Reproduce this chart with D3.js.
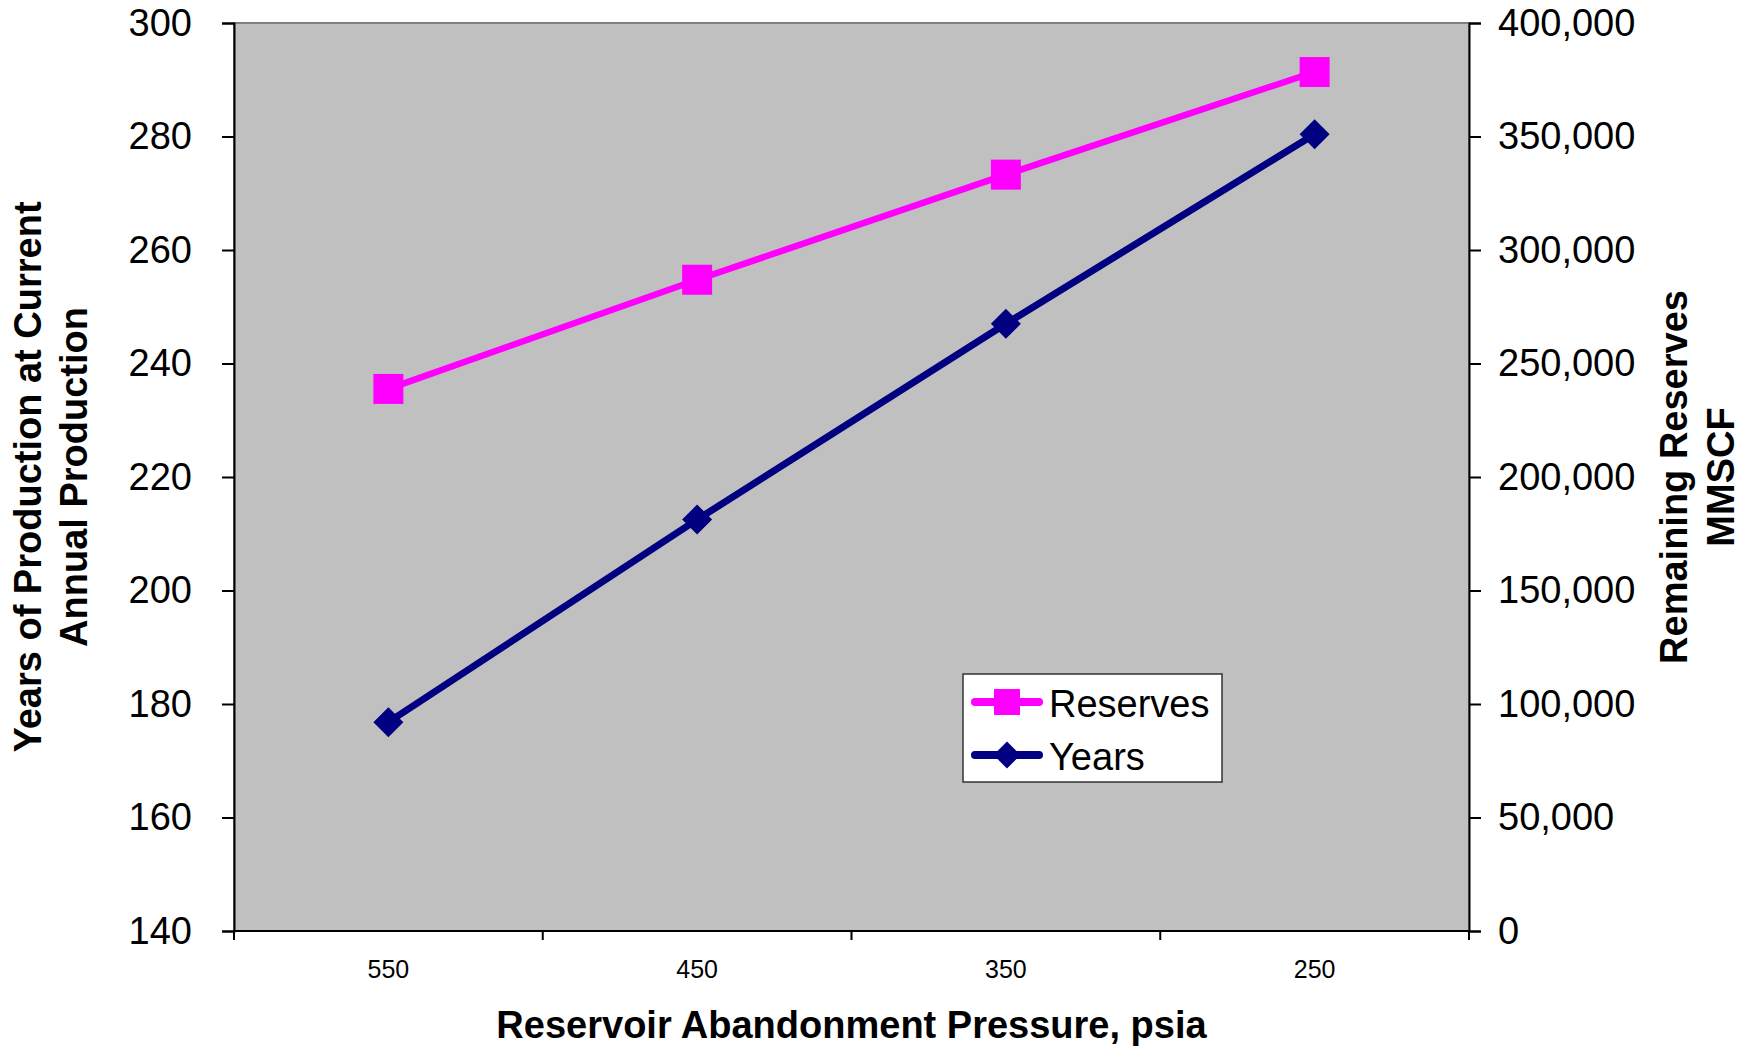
<!DOCTYPE html>
<html>
<head>
<meta charset="utf-8">
<script src="https://cdn.jsdelivr.net/npm/d3@7"></script>
<style>
  body { margin: 0; background: #fff; }
  svg { display: block; font-family: "Liberation Sans", Arial, sans-serif; }
</style>
</head>
<body>
<div id="chart"></div>
<script>
const pressures = ["550", "450", "350", "250"];
const years = [176.8, 212.5, 247.0, 280.4];
const reserves = [238800, 286900, 333200, 378400];
const yearTicks = [140, 160, 180, 200, 220, 240, 260, 280, 300];
const reserveTicks = [0, 50000, 100000, 150000, 200000, 250000, 300000, 350000, 400000];

const width = 1755;
const height = 1050;
const plot = { left: 234, right: 1469, top: 23, bottom: 931 };

const svg = d3.select("#chart").append("svg")
  .attr("width", width)
  .attr("height", height);

const x = d3.scaleBand()
  .domain(pressures)
  .range([plot.left, plot.right])
  .padding(0);

const yLeft = d3.scaleLinear().domain([140, 300]).range([plot.bottom, plot.top]);
const yRight = d3.scaleLinear().domain([0, 400000]).range([plot.bottom, plot.top]);

const cx = (d) => x(d) + x.bandwidth() / 2;

// plot area
svg.append("rect")
  .attr("x", plot.left)
  .attr("y", plot.top)
  .attr("width", plot.right - plot.left)
  .attr("height", plot.bottom - plot.top)
  .attr("fill", "#c0c0c0")
  .attr("stroke", "#808080")
  .attr("stroke-width", 2);

// left axis
const left = svg.append("g").attr("transform", `translate(${plot.left},0)`)
  .call(d3.axisLeft(yLeft).tickValues(yearTicks).tickSize(12).tickPadding(30));

// right axis
const right = svg.append("g").attr("transform", `translate(${plot.right},0)`)
  .call(d3.axisRight(yRight).tickValues(reserveTicks).tickSize(12).tickPadding(17)
    .tickFormat(d3.format(",")));

// bottom axis: ticks at category boundaries, labels at centres
const bottom = svg.append("g").attr("transform", `translate(0,${plot.bottom})`);
bottom.append("line")
  .attr("x1", plot.left).attr("x2", plot.right)
  .attr("stroke", "#000").attr("stroke-width", 2);
const bounds = pressures.map((d) => x(d)).concat([plot.right]);
bottom.selectAll(".btick").data(bounds).join("line")
  .attr("class", "btick")
  .attr("x1", (d) => d).attr("x2", (d) => d)
  .attr("y1", 0).attr("y2", 9)
  .attr("stroke", "#000").attr("stroke-width", 2);
bottom.selectAll(".blabel").data(pressures).join("text")
  .attr("class", "blabel")
  .attr("x", cx)
  .attr("y", 47)
  .attr("text-anchor", "middle")
  .attr("font-size", 25)
  .attr("fill", "#000")
  .text((d) => d);

[left, right].forEach((g) => {
  g.select(".domain").attr("stroke", "#000").attr("stroke-width", 2);
  g.selectAll(".tick line").attr("stroke", "#000").attr("stroke-width", 2);
  g.selectAll(".tick text").attr("font-size", 38).attr("fill", "#000")
    .attr("font-family", "\"Liberation Sans\", Arial, sans-serif");
});

// series
const reserveLine = d3.line().x((d, i) => cx(pressures[i])).y((d) => yRight(d));
const yearLine = d3.line().x((d, i) => cx(pressures[i])).y((d) => yLeft(d));

svg.append("path")
  .datum(reserves)
  .attr("d", reserveLine)
  .attr("fill", "none")
  .attr("stroke", "#ff00ff")
  .attr("stroke-width", 6.5);

svg.append("path")
  .datum(years)
  .attr("d", yearLine)
  .attr("fill", "none")
  .attr("stroke", "#000080")
  .attr("stroke-width", 7);

svg.selectAll(".sq").data(reserves).join("rect")
  .attr("class", "sq")
  .attr("x", (d, i) => cx(pressures[i]) - 15)
  .attr("y", (d) => yRight(d) - 15)
  .attr("width", 30).attr("height", 30)
  .attr("fill", "#ff00ff");

const diamond = (s) => `M0,${-s}L${s},0L0,${s}L${-s},0Z`;
svg.selectAll(".dm").data(years).join("path")
  .attr("class", "dm")
  .attr("d", diamond(15))
  .attr("transform", (d, i) => `translate(${cx(pressures[i])},${yLeft(d)})`)
  .attr("fill", "#000080");

// legend
const legend = svg.append("g").attr("transform", "translate(963,674)");
legend.append("rect")
  .attr("width", 259).attr("height", 108)
  .attr("fill", "#fff").attr("stroke", "#333").attr("stroke-width", 1.5);

const items = [
  { name: "Reserves", color: "#ff00ff", y: 28, marker: "square" },
  { name: "Years", color: "#000080", y: 81, marker: "diamond" }
];
items.forEach((it) => {
  legend.append("line")
    .attr("x1", 12).attr("x2", 76)
    .attr("y1", it.y).attr("y2", it.y)
    .attr("stroke", it.color).attr("stroke-width", 8)
    .attr("stroke-linecap", "round");
  if (it.marker === "square") {
    legend.append("rect")
      .attr("x", 31).attr("y", it.y - 13)
      .attr("width", 26).attr("height", 26)
      .attr("fill", it.color);
  } else {
    legend.append("path")
      .attr("d", diamond(13.5))
      .attr("transform", `translate(44,${it.y})`)
      .attr("fill", it.color);
  }
  legend.append("text")
    .attr("x", 86).attr("y", it.y + 15)
    .attr("font-size", 38)
    .attr("fill", "#000")
    .text(it.name);
});

// titles
svg.append("text")
  .attr("x", (plot.left + plot.right) / 2)
  .attr("y", 1038)
  .attr("text-anchor", "middle")
  .attr("font-size", 38)
  .attr("font-weight", "bold")
  .text("Reservoir Abandonment Pressure, psia");

const midY = (plot.top + plot.bottom) / 2;
const leftTitle = svg.append("text")
  .attr("transform", `translate(0,${midY}) rotate(-90)`)
  .attr("text-anchor", "middle")
  .attr("font-size", 38)
  .attr("font-weight", "bold");
leftTitle.append("tspan").attr("x", 0).attr("y", 41).text("Years of Production at Current");
leftTitle.append("tspan").attr("x", 0).attr("y", 87).text("Annual Production");

const rightTitle = svg.append("text")
  .attr("transform", `translate(0,${midY}) rotate(-90)`)
  .attr("text-anchor", "middle")
  .attr("font-size", 38)
  .attr("font-weight", "bold");
rightTitle.append("tspan").attr("x", 0).attr("y", 1687).text("Remaining Reserves");
rightTitle.append("tspan").attr("x", 0).attr("y", 1734).text("MMSCF");
</script>
</body>
</html>
